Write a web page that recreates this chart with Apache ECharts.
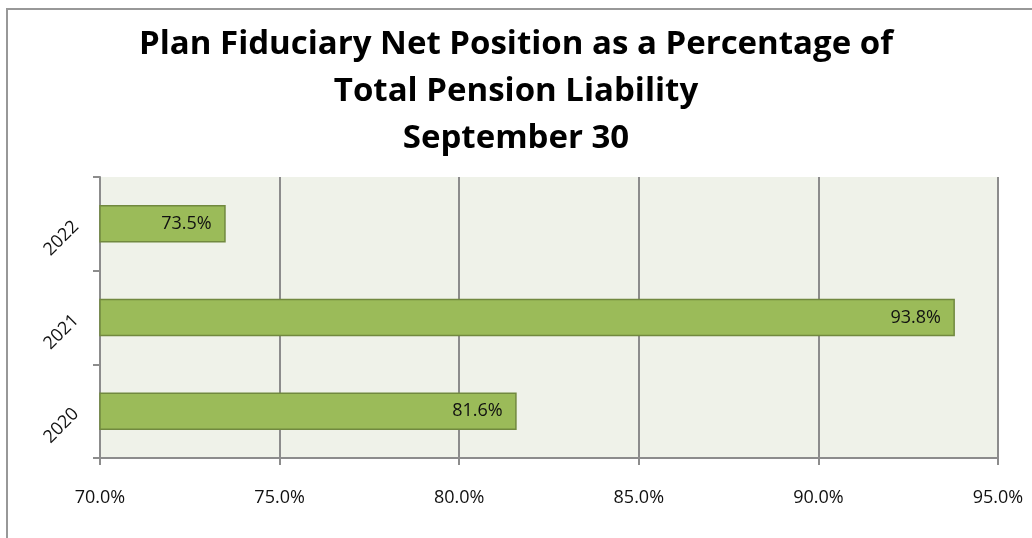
<!DOCTYPE html>
<html>
<head>
<meta charset="utf-8">
<script src="https://cdn.jsdelivr.net/npm/echarts@6/dist/echarts.min.js"></script>
<style>
  html, body { margin: 0; padding: 0; background: #fff; }
  #chart { width: 1032px; height: 538px; }
</style>
</head>
<body>
<div id="chart"></div>
<script>
// years, bottom to top
var years = ['2020', '2021', '2022']
var funded = [81.6, 93.8, 73.5]
var titleLines = ['Plan Fiduciary Net Position as a Percentage of', 'Total Pension Liability', 'September 30']

var chart = echarts.init(document.getElementById('chart'))
var font = '"Open Sans", sans-serif'

chart.setOption({
  animation: false,
  // outer frame
  graphic: [{
    type: 'rect',
    shape: { x: 7, y: 9, width: 1100, height: 600 },
    style: { fill: 'none', stroke: '#989898', lineWidth: 2 }
  }],
  title: {
    text: titleLines.join('\n'),
    left: 'center',
    top: 16,
    textStyle: {
      fontFamily: font,
      fontSize: 33,
      fontWeight: 'bold',
      color: '#000',
      lineHeight: 47
    }
  },
  grid: {
    left: 100,
    top: 177,
    width: 898,
    height: 281,
    show: true,
    backgroundColor: '#eff2e9',
    borderWidth: 0
  },
  xAxis: {
    type: 'value',
    min: 70,
    max: 95,
    interval: 5,
    axisLine: { show: true, lineStyle: { color: '#8c8c8c', width: 2 } },
    axisTick: { show: true, length: 7, lineStyle: { color: '#8c8c8c', width: 2 } },
    splitLine: { show: true, lineStyle: { color: '#8c8c8c', width: 2 } },
    axisLabel: {
      margin: 31,
      fontFamily: font,
      fontSize: 18,
      color: '#111',
      formatter: function (v) { return v.toFixed(1) + '%' }
    }
  },
  yAxis: {
    type: 'category',
    data: years,
    axisLine: { show: true, lineStyle: { color: '#8c8c8c', width: 2 } },
    axisTick: { show: true, length: 7, lineStyle: { color: '#8c8c8c', width: 2 } },
    axisLabel: {
      rotate: 45,
      margin: 24,
      fontFamily: font,
      fontSize: 18,
      color: '#111'
    }
  },
  series: [{
    type: 'bar',
    data: funded,
    barWidth: '40%',
    itemStyle: { color: '#9bbb59', borderColor: '#71893f', borderWidth: 1.5 },
    label: {
      show: true,
      position: 'insideRight',
      distance: 14,
      fontFamily: font,
      fontSize: 18,
      color: '#111',
      formatter: function (p) { return p.value.toFixed(1) + '%' }
    }
  }]
})
</script>
</body>
</html>
